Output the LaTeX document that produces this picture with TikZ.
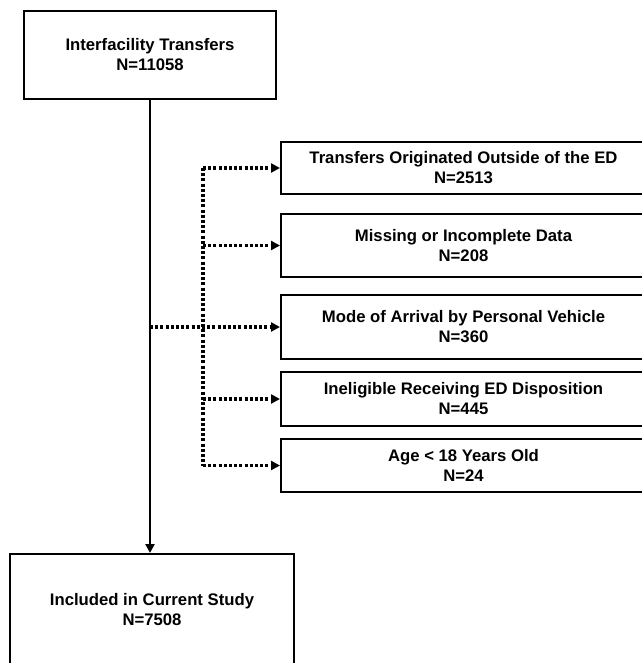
\documentclass[tikz,border=0pt]{standalone}
\usepackage{fontspec}
\setmainfont{Liberation Sans}
\usetikzlibrary{arrows.meta}
\tikzset{
  box/.style={draw,line width=2pt,align=center,font=\bfseries\fontsize{16.7}{20}\selectfont,inner sep=0pt},
  exbox/.style={box,minimum width=365pt},
  mainarrow/.style={line width=2.4pt,-{Triangle[length=9pt,width=9pt]}},
  dotline/.style={line width=3.2pt,dash pattern=on 3pt off 2.2pt},
  exarrow/.style={dotline,-{Triangle[length=9pt,width=9pt]}}
}
\begin{document}
\begin{tikzpicture}[x=1pt,y=-1pt]
     		\useasboundingbox (0,0) rectangle (641,663);
     		\node[box,minimum width=252pt,minimum height=88pt] (top) at (150,55) {Interfacility Transfers\\N=11058};
     		\node[box,minimum width=284pt,minimum height=112pt] (incl) at (152,610) {Included in Current Study\\N=7508};

     		\node[exbox,minimum height=52pt] (ex1) at (463.5,168) {Transfers Originated Outside of the ED\\N=2513};
     		\node[exbox,minimum height=63pt] (ex2) at (463.5,245.5) {Missing or Incomplete Data\\N=208};
     		\node[exbox,minimum height=64pt] (ex3) at (463.5,327) {Mode of Arrival by Personal Vehicle\\N=360};
     		\node[exbox,minimum height=54pt] (ex4) at (463.5,399) {Ineligible Receiving ED Disposition\\N=445};
     		\node[exbox,minimum height=53pt] (ex5) at (463.5,465.5) {Age < 18 Years Old\\N=24};

     		\draw[mainarrow] (top.south) -- (top.south |- incl.north);
     		\coordinate (trunk) at (203,0);
     		\draw[dotline] (trunk |- ex1.west) -- (trunk |- ex5.west);
     		\foreach \i in {1,2,4,5}{\draw[exarrow] (trunk |- ex\i.west) -- (ex\i.west);}
     		\draw[exarrow] (top.south |- ex3.west) -- (ex3.west);
\end{tikzpicture}
\end{document}
